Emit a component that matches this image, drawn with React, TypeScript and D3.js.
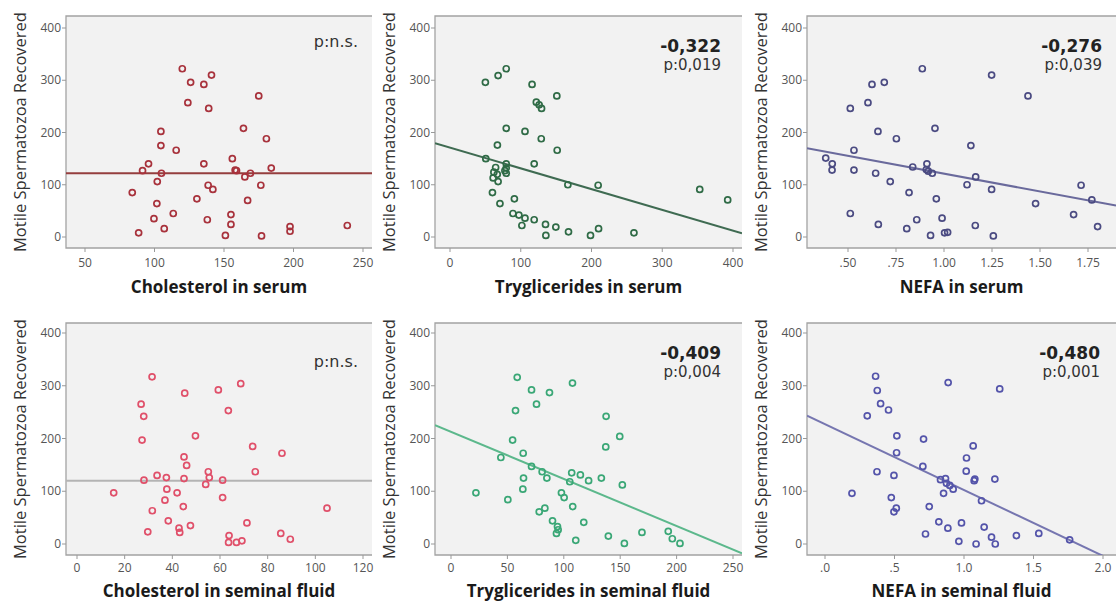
import React, { useEffect, useRef } from 'react';
import * as d3 from 'd3';

const yTicks = [0, 100, 200, 300, 400];
const yLabel = 'Motile Spermatozoa Recovered';

// Cholesterol in serum
const cholSerumX = [120, 126, 135.5, 141, 124, 139, 175, 104.6, 104.6, 115.6, 164, 180.5, 95.7, 91.4, 105, 102, 135.5, 156, 158, 159, 165, 169, 184, 176.5, 138.6, 142, 84, 101.7, 130.5, 167, 99.6, 113.5, 138, 155, 155, 107, 88.6, 151, 177, 197.5, 197.5, 238.7];
const cholSerumY = [322, 296, 292, 310, 257, 246, 270, 202, 175, 166, 208, 188, 140, 127, 122, 106, 140, 150, 128, 127, 115, 122, 132, 99, 99, 91, 85, 64, 73, 70, 35, 45, 33, 43, 24, 16, 8, 3, 2, 20, 11, 22];

// Tryglicerides in serum
const trigSerumX = [50, 68, 79.5, 116, 122, 126, 129.4, 151, 79.5, 106, 129, 151.5, 67, 50.6, 64.5, 62, 66.8, 61, 68, 79.5, 79.5, 79.5, 77.6, 119, 166.6, 209.4, 60, 70.6, 91, 89, 97.4, 101.6, 106, 119, 135, 135.5, 149.6, 167.5, 198.6, 210, 260, 353, 392.5];
const trigSerumY = [296, 309, 322, 292, 258, 253, 246, 270, 208, 202, 188, 166, 176, 150, 133, 124, 120, 113, 106, 140, 132, 122, 127, 140, 100, 99, 85, 64, 73, 45, 42, 22, 36, 33, 24, 3, 19, 10, 3, 16, 8, 91, 71];

// NEFA in serum
const nefaSerumX = [0.887, 0.625, 0.689, 0.604, 0.512, 1.248, 1.4375, 0.656, 0.752, 0.953, 1.14, 0.531, 0.384, 0.418, 0.417, 0.531, 0.644, 0.72, 0.837, 0.911, 0.908, 0.918, 0.939, 1.12, 1.165, 1.248, 0.818, 0.96, 1.477, 1.714, 1.77, 0.512, 0.858, 0.658, 0.806, 0.99, 1.003, 1.019, 0.93, 1.163, 1.257, 1.675, 1.8];
const nefaSerumY = [322, 292, 296, 257, 246, 310, 270, 202, 188, 208, 175, 166, 151, 140, 128, 128, 122, 106, 134, 140, 129, 126, 122, 100, 115, 91, 85, 73, 64, 99, 71, 45, 33, 24, 16, 36, 8, 9, 3, 22, 2, 43, 20];

// Cholesterol in seminal fluid
const cholFluidX = [31.5, 26.9, 28, 27.3, 45.2, 59.3, 68.7, 63.5, 49.7, 44.9, 46, 73.7, 86, 74.8, 15.4, 28.1, 33.6, 37.5, 44.9, 55.1, 55.5, 54, 61.1, 37.7, 42, 36.9, 61.1, 31.6, 44.6, 104.9, 38.3, 42.8, 43.1, 47.6, 29.7, 71.3, 85.5, 89.5, 63.8, 63.6, 66.9, 69.2];
const cholFluidY = [317, 265, 242, 197, 286, 292, 304, 253, 205, 165, 149, 185, 172, 137, 97, 121, 130, 126, 124, 137, 126, 113, 121, 104, 97, 83, 88, 63, 71, 68, 44, 30, 22, 35, 23, 40, 20, 9, 16, 3, 3, 6];

// Tryglicerides in seminal fluid
const trigFluidX = [58.7, 71.4, 87.3, 107.7, 75.8, 57.2, 137.5, 54.6, 149.6, 137.2, 64, 44.2, 71.4, 80.8, 85, 107, 114.7, 122, 105.3, 133.3, 151.9, 64.3, 63.7, 22.1, 50.4, 97.9, 100.3, 107.9, 78.2, 83.2, 90, 94.4, 95, 93.5, 117.7, 110.6, 139.5, 153.7, 169.3, 192.6, 196.2, 203];
const trigFluidY = [316, 292, 287, 305, 265, 253, 242, 197, 204, 184, 172, 164, 147, 137, 125, 135, 131, 120, 118, 125, 112, 125, 104, 97, 84, 97, 88, 71, 61, 68, 44, 33, 27, 20, 41, 7, 15, 1, 22, 24, 10, 1];

// NEFA in seminal fluid
const nefaFluidX = [0.364, 0.376, 0.4, 0.457, 0.304, 0.886, 1.257, 0.517, 0.709, 0.515, 1.066, 1.018, 0.704, 0.374, 0.496, 1.016, 1.078, 1.073, 1.222, 0.831, 0.867, 0.874, 0.898, 0.922, 0.853, 0.194, 0.477, 1.126, 0.75, 0.513, 0.496, 0.819, 0.982, 0.884, 1.145, 0.723, 0.963, 1.087, 1.198, 1.225, 1.377, 1.538, 1.76];
const nefaFluidY = [318, 291, 266, 254, 243, 306, 294, 205, 199, 173, 186, 163, 147, 137, 130, 138, 123, 120, 123, 122, 124, 115, 111, 104, 96, 96, 88, 82, 71, 68, 61, 42, 40, 30, 32, 19, 5, 0, 13, 0, 16, 20, 8];

const titles = ['Cholesterol in serum', 'Tryglicerides in serum', 'NEFA in serum', 'Cholesterol in seminal fluid', 'Tryglicerides in seminal fluid', 'NEFA in seminal fluid'];
const xTickSets = [[50, 100, 150, 200, 250], [0, 100, 200, 300, 400], [0.5, 0.75, 1.0, 1.25, 1.5, 1.75], [0, 20, 40, 60, 80, 100, 120], [0, 50, 100, 150, 200, 250], [0, 0.5, 1.0, 1.5, 2.0]];
// fitted line: intercept, slope
const fitIntercepts = [122, 171.1, 189.3, 120, 212.7, 227.2];
const fitSlopes = [0, -0.397, -68.1, 0, -0.893, -124.9];
const corrValues = ['', '-0,322', '-0,276', '', '-0,409', '-0,480'];
const pValues = ['p:n.s.', 'p:0,019', 'p:0,039', 'p:n.s.', 'p:0,004', 'p:0,001'];

const xData = [cholSerumX, trigSerumX, nefaSerumX, cholFluidX, trigFluidX, nefaFluidX];
const yData = [cholSerumY, trigSerumY, nefaSerumY, cholFluidY, trigFluidY, nefaFluidY];

// layout
const cols = [[66, 372], [435, 742], [807, 1116]];
const rows = [[16, 248], [323, 555]];
const rowY = [[237, 28], [544, 333]];
const tickOff = [19, 17];
const titleOff = [45, 42];
const xCal = [
  { d: [50, 250], r: [85, 363] },
  { d: [0, 400], r: [450, 733] },
  { d: [0.5, 1.75], r: [848, 1088] },
  { d: [0, 120], r: [77, 363] },
  { d: [0, 250], r: [451, 733] },
  { d: [0, 2], r: [825, 1103] },
];
const annRight = [14, 21, 14, 14, 21, 16];
const dotColors = ['#a8323c', '#2f6b46', '#4b4b82', '#e0506a', '#3aa776', '#5454aa'];
const lineColors = ['#953e3e', '#3f6b52', '#6a6a9c', '#b4b4b4', '#5cb88c', '#7676b0'];

const fmtTick = (i: number, d: number) => {
  if (i === 2) return d.toFixed(2).replace(/^0/, '');
  if (i === 5) return d.toFixed(1).replace(/^0/, '');
  return String(d);
};

const App = () => {
  const ref = useRef<SVGSVGElement>(null);

  useEffect(() => {
    const svg = d3.select(ref.current);
    svg.selectAll('*').remove();
    const font = "'Open Sans', 'DejaVu Sans', sans-serif";
    const annFont = "'DejaVu Sans', sans-serif";

    titles.forEach((title, i) => {
      const row = Math.floor(i / 3);
      const [x0, x1] = cols[i % 3];
      const [y0, y1] = rows[row];
      const x = d3.scaleLinear().domain(xCal[i].d).range(xCal[i].r);
      const y = d3.scaleLinear().domain([0, 400]).range(rowY[row]);
      const g = svg.append('g');

      g.append('clipPath').attr('id', 'clip' + i)
        .append('rect').attr('x', x0).attr('y', y0).attr('width', x1 - x0).attr('height', y1 - y0);

      g.append('rect')
        .attr('x', x0).attr('y', y0).attr('width', x1 - x0).attr('height', y1 - y0)
        .attr('fill', '#f2f2f2');

      // frame lines
      g.append('path')
        .attr('d', `M${x1},${y0}H${x0}V${y1}H${x1}`)
        .attr('fill', 'none').attr('stroke', '#a3a3a3').attr('stroke-width', 1.3);

      // y ticks
      g.selectAll('.yt').data(yTicks).enter().append('line')
        .attr('x1', x0 - 4).attr('x2', x0).attr('y1', d => y(d)).attr('y2', d => y(d))
        .attr('stroke', '#999');
      g.selectAll('.yl').data(yTicks).enter().append('text')
        .attr('x', x0 - 5).attr('y', d => y(d)).attr('dy', '0.35em')
        .attr('text-anchor', 'end').attr('font-size', 12).attr('font-family', font)
        .attr('fill', '#555').text(d => d);

      // x ticks
      g.selectAll('.xt').data(xTickSets[i]).enter().append('line')
        .attr('x1', d => x(d)).attr('x2', d => x(d)).attr('y1', y1).attr('y2', y1 + 4)
        .attr('stroke', '#999');
      g.selectAll('.xl').data(xTickSets[i]).enter().append('text')
        .attr('x', d => x(d)).attr('y', y1 + tickOff[row])
        .attr('text-anchor', 'middle').attr('font-size', 12).attr('font-family', font)
        .attr('fill', '#555').text(d => fmtTick(i, d));

      // fit line
      const lx0 = x.invert(x0), lx1 = x.invert(x1);
      g.append('line')
        .attr('clip-path', `url(#clip${i})`)
        .attr('x1', x0).attr('x2', x1)
        .attr('y1', y(fitIntercepts[i] + fitSlopes[i] * lx0))
        .attr('y2', y(fitIntercepts[i] + fitSlopes[i] * lx1))
        .attr('stroke', lineColors[i]).attr('stroke-width', 2);

      // points
      g.selectAll('.pt').data(xData[i].map((v, k) => [v, yData[i][k]])).enter().append('circle')
        .attr('cx', d => x(d[0])).attr('cy', d => y(d[1])).attr('r', 3)
        .attr('fill', 'none').attr('stroke', dotColors[i]).attr('stroke-width', 1.7);

      // annotations
      const ax = x1 - annRight[i];
      if (corrValues[i]) {
        g.append('text').attr('x', ax).attr('y', y0 + 36)
          .attr('text-anchor', 'end').attr('font-size', 17).attr('font-weight', 'bold')
          .attr('font-family', annFont).attr('fill', '#222').text(corrValues[i]);
        g.append('text').attr('x', ax).attr('y', y0 + 54)
          .attr('text-anchor', 'end').attr('font-size', 15)
          .attr('font-family', annFont).attr('fill', '#333').text(pValues[i]);
      } else {
        g.append('text').attr('x', ax).attr('y', y0 + (row === 0 ? 31 : 44))
          .attr('text-anchor', 'end').attr('font-size', 16)
          .attr('font-family', annFont).attr('fill', '#333').text(pValues[i]);
      }

      // axis titles
      g.append('text')
        .attr('transform', `translate(${x0 - 40},${(y0 + y1) / 2}) rotate(-90)`)
        .attr('text-anchor', 'middle').attr('font-size', 16.5).attr('font-family', font)
        .attr('fill', '#333').text(yLabel);
      g.append('text')
        .attr('x', (x0 + x1) / 2).attr('y', y1 + titleOff[row])
        .attr('text-anchor', 'middle').attr('font-size', 17).attr('font-weight', 'bold')
        .attr('font-family', font).attr('fill', '#1a1a1a').text(title);
    });
  }, []);

  return (
    <svg ref={ref} width={1117} height={606}
      style={{ position: 'absolute', left: 0, top: 0, background: '#fff' }} />
  );
};

export default App;
